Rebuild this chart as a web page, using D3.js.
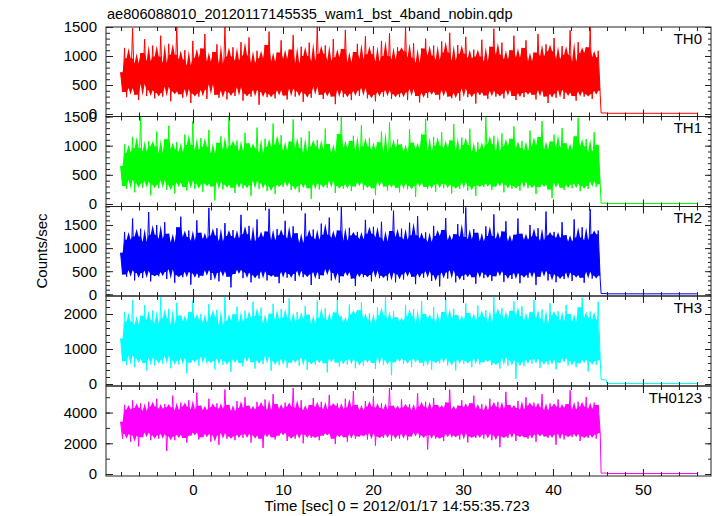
<!DOCTYPE html>
<html>
<head>
<meta charset="utf-8">
<script src="https://cdn.jsdelivr.net/npm/d3@7"></script>
<style>
  html, body { margin: 0; padding: 0; background: #fff; }
  svg { display: block; font-family: "Liberation Sans", Arial, Helvetica, sans-serif; }
</style>
</head>
<body>
<svg id="chart" width="717" height="516"></svg>
<script>
// ---------------- DATA ----------------
const title = "ae806088010_20120117145535_wam1_bst_4band_nobin.qdp";
const xTitle = "Time [sec] 0 = 2012/01/17 14:55:35.723";
const yTitle = "Counts/sec";
const bandNames = ["TH0", "TH1", "TH2", "TH3", "TH0123"];

// burst-mode light curve: uniform bins from burstStart to burstEnd
const burstStart = -8.05;
const burstEnd = 45.25;
// after the burst data end, rates drop to ~0
const tailTimes = [45.35, 45.9, 46.0, 56.0];

const TH0 = [
 720,380,1140,290,960,450,1480,330,870,240,1050,520,1290,310,910,410,1180,270,990,360,
 1350,300,880,470,1210,220,1020,390,1500,340,940,280,1100,430,830,190,1260,350,970,300,
 1130,420,1380,260,900,510,1070,330,1200,280,860,400,1500,250,990,370,1150,310,920,460,
 1240,230,1010,350,1320,300,880,420,1090,160,960,380,1190,290,1420,340,900,270,1060,410,
 1270,320,950,250,1110,440,1360,300,870,390,1160,210,1000,350,1230,280,910,470,1500,330,
 1040,260,1180,380,920,300,1290,170,980,420,1120,290,1450,350,890,240,1070,400,1210,310,
 950,450,1340,270,1030,330,1170,220,900,380,1260,300,1000,410,1390,260,940,340,1150,290,
 1080,370,1500,240,970,430,1220,310,880,200,1130,360,1300,280,1010,390,1180,330,930,250,
 1250,410,1060,300,1400,270,920,360,1190,230,1040,440,1330,290,960,350,1110,180,990,380,
 1280,320,900,260,1160,400,1470,300,1020,350,1230,270,940,420,1100,310,1350,240,970,360,
 1140,290,1270,380,910,330,1060,250,1380,410,990,300,1200,190,1080,350,1310,280,950,420,
 1170,260,1020,370,1440,310,900,230,1240,390,1050,300,1150,340,1500,260,980,400,1090,330
];
const TH1 = [
 650,310,1020,260,880,420,1150,200,960,350,1500,280,900,390,1080,150,990,330,1240,270,
 870,410,1110,240,1340,320,940,180,1060,370,890,290,1190,230,1010,400,1420,260,920,340,
 1130,210,980,350,1270,300,860,60,1050,380,1160,250,930,330,1500,280,1000,190,1090,360,
 900,270,1220,320,1040,140,950,400,1310,260,870,350,1120,220,980,300,1380,170,1020,330,
 1180,290,910,380,1070,240,1450,310,960,200,1140,350,880,270,1250,90,990,360,1100,250,
 930,330,1290,280,1030,400,870,190,1200,310,1500,260,950,340,1080,220,1170,300,900,380,
 1350,240,990,320,1130,270,920,150,1060,390,1240,300,880,230,1400,340,970,280,1110,200,
 1020,360,890,250,1280,310,1050,120,940,370,1190,290,1460,260,900,330,1150,210,1000,350,
 1230,270,960,340,1090,180,1370,300,910,260,1140,380,1010,230,1290,310,880,140,1060,320,
 940,290,1500,350,1030,240,1170,300,900,370,1210,200,990,330,1120,260,1330,310,960,230,
 1080,380,910,270,1260,320,1000,170,1150,290,1420,340,930,250,1070,100,1190,360,970,280,
 1300,240,1040,330,920,270,1160,350,1480,220,990,310,1110,260,890,390,1230,290,1010,340
];
const TH2 = [
 900,430,1350,380,1180,520,1640,300,1250,460,1420,350,1130,510,1780,280,1290,420,1500,390,
 1200,480,1560,330,1310,540,1120,250,1450,410,1680,370,1240,490,1380,210,1160,450,1600,360,
 1330,400,1190,520,1870,310,1270,460,1430,280,1150,500,1540,380,1260,150,1390,440,1210,530,
 1720,350,1300,470,1480,260,1140,410,1620,340,1230,500,1360,300,1850,420,1170,380,1410,240,
 1280,490,1590,360,1200,440,1470,290,1320,510,1110,370,1750,430,1250,200,1400,480,1180,330,
 1530,410,1290,550,1660,300,1220,460,1380,250,1900,390,1160,480,1440,340,1270,180,1350,450,
 1190,370,1610,420,1310,280,1460,510,1230,350,1570,400,1140,300,1370,470,1810,260,1240,430,
 1420,320,1180,490,1550,380,1280,220,1690,450,1210,360,1340,500,1130,290,1480,410,1260,170,
 1390,470,1650,340,1170,520,1300,260,1520,400,1240,310,1880,440,1190,370,1410,230,1330,480,
 1150,350,1470,430,1260,290,1730,390,1200,500,1360,270,1580,420,1140,330,1290,460,1640,240,
 1310,410,1180,360,1500,480,1250,200,1430,380,1160,510,1790,300,1270,440,1350,260,1220,390,
 1560,330,1280,470,1140,290,1620,420,1230,360,1450,250,1170,490,1840,340,1300,400,1380,310
];
const TH3 = [
 1300,650,2050,540,1780,820,2400,480,1690,720,1950,600,2250,390,1820,760,2100,530,1730,690,
 2480,580,1880,800,2150,450,1700,670,2320,560,1960,740,1790,300,2060,610,2400,700,1850,520,
 2000,780,1750,590,2280,660,1920,420,2120,730,1680,550,2500,640,1810,350,1990,710,2210,600,
 1760,500,2090,770,1870,620,2350,440,1940,680,2180,570,1720,800,2010,380,2290,650,1830,540,
 2140,720,1900,470,2450,610,1770,690,2060,520,1850,750,2230,400,1980,630,1710,560,2380,700,
 1890,590,2170,330,1800,740,2040,610,2420,500,1930,680,1750,560,2270,720,1990,450,2110,640,
 2330,520,1840,710,2020,600,1730,430,2190,780,1960,550,2480,670,1820,250,2080,620,1910,740,
 1780,570,2260,680,1950,480,2140,730,1700,610,2370,520,2000,700,1860,410,2200,650,1740,590,
 2060,760,2440,530,1880,640,2150,390,1970,710,1790,580,2300,660,2030,480,1830,740,2240,560,
 1920,620,2110,700,1760,540,2500,600,1990,440,2170,770,1850,520,2090,680,2360,150,1940,630,
 2220,510,1810,690,2050,580,2400,720,1870,460,2130,640,1720,550,2310,700,1960,420,2080,610,
 1800,740,2260,530,2000,660,1770,480,2190,590,2470,700,1900,360,2070,640,1840,550,2350,680
];
const TH0123 = [
 3400,2300,4500,2600,4200,2100,4800,2500,4300,1800,4600,2400,4100,2700,4700,2200,4400,2500,4900,2300,
 4250,2600,4550,1500,4350,2450,5100,2200,4150,2550,4650,2350,4400,2050,4800,2500,4200,2700,5300,2250,
 4450,2400,4150,2600,4900,2100,4350,2500,4600,1900,4250,2650,5500,2300,4500,2450,4100,2200,4750,2550,
 4300,2350,5000,2600,4450,2050,4200,2500,4700,2300,4400,1700,4850,2600,4150,2400,5200,2250,4550,2500,
 4250,2700,4650,2150,4400,2450,5600,2300,4300,2600,4800,2000,4150,2550,4500,2350,4950,2450,4350,2200,
 4700,2500,4200,2650,5150,2300,4450,1950,4600,2550,4250,2400,4900,2100,4350,2600,5400,2300,4500,2450,
 4150,2550,4750,2250,4400,2650,5050,1850,4300,2450,4600,2350,4200,2600,5600,2150,4450,2500,4250,2300,
 4850,2600,4350,2200,4550,2450,4150,2700,5250,2350,4400,2500,4700,1600,4250,2550,4950,2300,4500,2400,
 4300,2150,4650,2600,5500,2400,4200,2500,4450,2250,4800,2650,4350,2050,4600,2450,5100,2350,4250,2550,
 4550,2300,4150,2600,4900,2200,4400,2500,4700,1750,4250,2450,5350,2350,4500,2650,4300,2150,4750,2500,
 4200,2400,5000,2300,4450,2550,4650,2100,4350,2600,5200,2450,4150,2350,4600,2550,4400,1900,4850,2600,
 4300,2250,4550,2500,5450,2400,4200,2600,4700,2150,4400,2450,5000,2350,4250,2550,4650,2300,4500,2650
];
const bandSeries = [TH0, TH1, TH2, TH3, TH0123];
const tailSeries = [
  [18, 18, 12, 12],
  [14, 14, 8, 8],
  [16, 16, 10, 10],
  [120, 120, 14, 14],
  [60, 60, 30, 30]
];

// axis tick values
const xMajorTicks = [0, 10, 20, 30, 40, 50];
const xMinorTicks = d3.range(-8, 57, 2);
const yMajorTicks = [
  [0, 500, 1000, 1500],
  [0, 500, 1000, 1500],
  [0, 500, 1000, 1500],
  [0, 1000, 2000],
  [0, 2000, 4000]
];
const yMinorTicks = [
  d3.range(0, 1501, 100),
  d3.range(0, 1501, 100),
  d3.range(0, 1901, 100),
  d3.range(0, 2501, 200),
  d3.range(0, 5001, 1000)
];
const yDomains = [[-43, 1500], [-43, 1500], [-37, 1900], [-57, 2514], [-130, 5730]];

// ---------------- LAYOUT / STYLE ----------------
const colors = ["#ff0000", "#00ff00", "#0000ff", "#00ffff", "#ff00ff"];
const plotLeft = 106, plotRight = 711;
const panelEdges = [27, 116.5, 206.5, 296, 386, 476];
const axisColor = "#222";

const svg = d3.select("#chart");

const x = d3.scaleLinear().domain([-9.67, 57.56]).range([plotLeft, plotRight]);

// title
svg.append("text")
  .attr("x", 107).attr("y", 19)
  .attr("font-size", 14.6).attr("fill", "#000")
  .text(title);

bandNames.forEach((name, p) => {
  const top = panelEdges[p], bottom = panelEdges[p + 1];
  const y = d3.scaleLinear().domain(yDomains[p]).range([bottom, top]);
  const vals = bandSeries[p];
  const n = vals.length;
  const step = (burstEnd - burstStart) / (n - 1);
  const burstPts = vals.map((v, i) => [burstStart + i * step, v]);
  const pts = burstPts.slice();
  tailSeries[p].forEach((v, i) => pts.push([tailTimes[i], v]));

  // dense core of the many overlapping bins: local 2nd-lowest / 2nd-highest
  const core = burstPts.map((d, i) => {
    const w = vals.slice(Math.max(0, i - 2), Math.min(n, i + 3)).sort(d3.ascending);
    const k = w.length;
    return [d[0], w[Math.min(1, k - 1)], w[Math.max(0, k - 2)]];
  });

  const clipId = "clip" + p;
  svg.append("clipPath").attr("id", clipId)
    .append("rect")
    .attr("x", plotLeft).attr("y", top)
    .attr("width", plotRight - plotLeft).attr("height", bottom - top);

  const g = svg.append("g").attr("clip-path", `url(#${clipId})`);
  const area = d3.area().x(d => x(d[0])).y0(d => y(d[1])).y1(d => y(d[2]));
  g.append("path")
    .datum(core)
    .attr("fill", colors[p])
    .attr("d", area);
  const line = d3.line().x(d => x(d[0])).y(d => y(d[1]));
  g.append("path")
    .datum(pts)
    .attr("fill", "none")
    .attr("stroke", colors[p])
    .attr("stroke-width", 1)
    .attr("d", line);

  // frame
  svg.append("rect")
    .attr("x", plotLeft).attr("y", top)
    .attr("width", plotRight - plotLeft).attr("height", bottom - top)
    .attr("fill", "none").attr("stroke", axisColor).attr("stroke-width", 1);

  // y axes (left: labels, right: ticks only)
  const mkY = (axisFn, ticks, size, fmt, xpos) => {
    const a = axisFn(y).tickValues(ticks).tickSize(size).tickPadding(9);
    a.tickFormat(fmt);
    const ag = svg.append("g").attr("transform", `translate(${xpos},0)`).call(a);
    ag.select(".domain").remove();
    ag.selectAll("line").attr("stroke", axisColor);
    ag.selectAll("text").attr("font-size", 15).attr("fill", "#000")
      .attr("font-family", "Liberation Sans, Arial, sans-serif");
    return ag;
  };
  mkY(d3.axisLeft, yMinorTicks[p], -4, () => "", plotLeft);
  mkY(d3.axisLeft, yMajorTicks[p], -7, d3.format("d"), plotLeft);
  mkY(d3.axisRight, yMinorTicks[p], -3, () => "", plotRight);
  mkY(d3.axisRight, yMajorTicks[p], -6, () => "", plotRight);

  // x ticks at top and bottom of each panel
  const mkX = (axisFn, ticks, size, fmt, ypos) => {
    const a = axisFn(x).tickValues(ticks).tickSize(size).tickPadding(8).tickFormat(fmt);
    const ag = svg.append("g").attr("transform", `translate(0,${ypos})`).call(a);
    ag.select(".domain").remove();
    ag.selectAll("line").attr("stroke", axisColor);
    ag.selectAll("text").attr("font-size", 15).attr("fill", "#000")
      .attr("font-family", "Liberation Sans, Arial, sans-serif");
    return ag;
  };
  mkX(d3.axisTop, xMinorTicks, -4, () => "", top);
  mkX(d3.axisTop, xMajorTicks, -7, () => "", top);
  mkX(d3.axisBottom, xMinorTicks, -4, () => "", bottom);
  mkX(d3.axisBottom, xMajorTicks, -7, p === bandNames.length - 1 ? d3.format("d") : () => "", bottom);

  // band label
  svg.append("text")
    .attr("x", 702).attr("y", top + 16.5)
    .attr("text-anchor", "end")
    .attr("font-size", 15).attr("fill", "#000")
    .text(name);
});

// axis titles
svg.append("text")
  .attr("transform", `translate(47,251) rotate(-90)`)
  .attr("text-anchor", "middle")
  .attr("font-size", 15).attr("fill", "#000")
  .text(yTitle);

svg.append("text")
  .attr("x", 397).attr("y", 511)
  .attr("text-anchor", "middle")
  .attr("font-size", 15).attr("fill", "#000")
  .text(xTitle);
</script>
</body>
</html>
